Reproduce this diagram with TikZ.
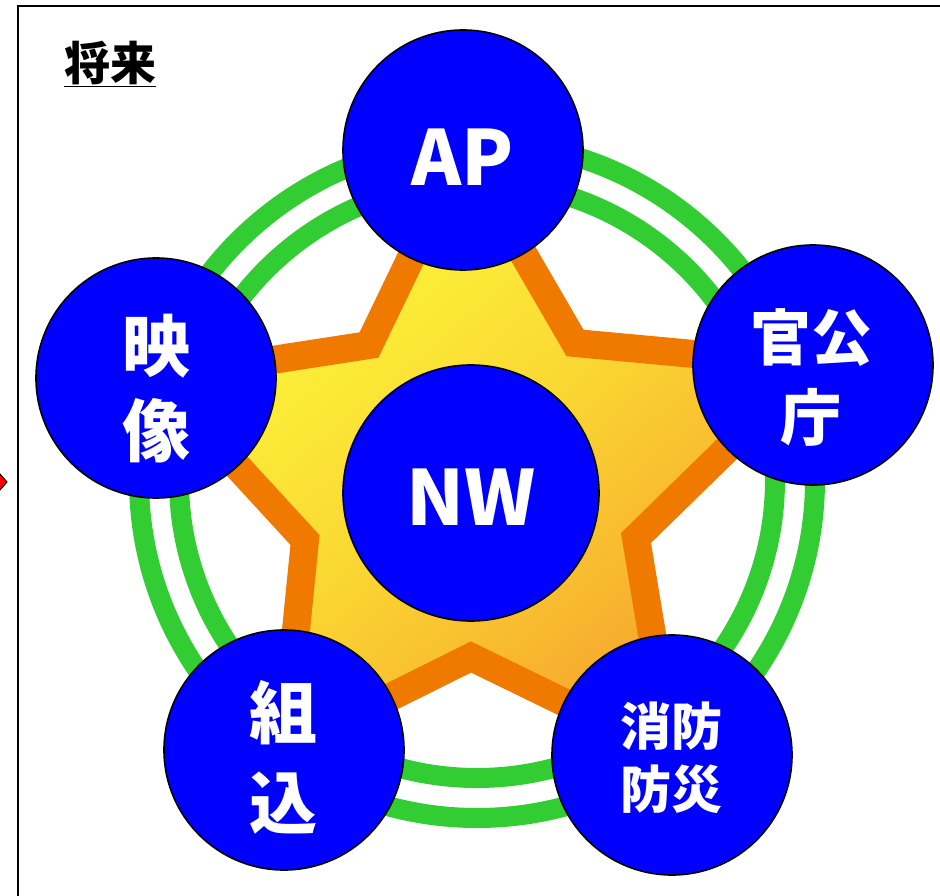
\documentclass[tikz,border=0pt]{standalone}
\usepackage{fontspec}
\newfontfamily\jp{Noto Sans CJK JP}
\definecolor{ringgreen}{RGB}{50,205,50}
\definecolor{starorange}{RGB}{240,122,0}
\definecolor{staryellow}{RGB}{252,252,60}
\definecolor{stardeep}{RGB}{246,160,45}
\definecolor{discblue}{RGB}{0,0,255}
\begin{document}
\begin{tikzpicture}[x=1pt,y=-1pt,
  disc/.style={circle,draw=black,line width=1.6pt,fill=discblue,inner sep=0pt,minimum size=#1},
  lbl/.style={text=white,font=\jp\bfseries,align=center,inner sep=0pt},
  ring/.style={draw=ringgreen,line width=20pt}]
\useasboundingbox (0,0) rectangle (940,896);
\clip (0,0) rectangle (940,896);
% frame
\draw[line width=2pt] (18,930) -- (18,6) -- (960,6);
% red arrow tip at the left edge
\filldraw[fill=red,draw=black,line width=1pt] (-14,458) -- (7,482) -- (-14,506) -- cycle;
% title
\node[inner sep=0pt,font=\jp\bfseries\fontsize{46}{50}\selectfont] (title) at (110,64) {\underline{将来}};
% rings
\coordinate (c) at (477,480);
\draw[ring] (c) circle[radius=298];
\draw[ring] (c) circle[radius=338];
% star
\path[draw=starorange,line width=28pt,line join=miter,
      top color=staryellow,bottom color=stardeep,middle color={rgb,255:red,250;green,215;blue,50},shading angle=40]
  (463,150) -- (575,343) -- (813,365) -- (636,538) -- (672,755)
  -- (471,657) -- (284,750) -- (305,540) -- (156,378) -- (369,345) -- cycle;
% discs
\node[disc=240pt] (ap) at (463,150) {};
\node[disc=240pt] (eizo) at (156,378) {};
\node[disc=240pt] (kancho) at (813,365) {};
\node[disc=240pt] (kumikomi) at (284,750) {};
\node[disc=240pt] (shobo) at (672,755) {};
\node[disc=256pt] (nw) at (471,493) {};
% labels
\node[lbl,font=\jp\bfseries\fontsize{76}{80}\selectfont] (tap) at (463,157) {AP};
\node[lbl,font=\jp\bfseries\fontsize{76}{80}\selectfont] (tnw) at (471,497) {NW};
\node[lbl,font=\jp\bfseries\fontsize{68}{85}\selectfont] (teizo) at (156,389) {映\\像};
\node[lbl,font=\jp\bfseries\fontsize{61}{80}\selectfont] (tkancho) at (811,378) {官公\\庁};
\node[lbl,font=\jp\bfseries\fontsize{68}{90}\selectfont] (tkumi) at (283,757) {組\\込};
\node[lbl,font=\jp\bfseries\fontsize{51}{63}\selectfont] (tshobo) at (671,758) {消防\\防災};
\end{tikzpicture}
\end{document}
